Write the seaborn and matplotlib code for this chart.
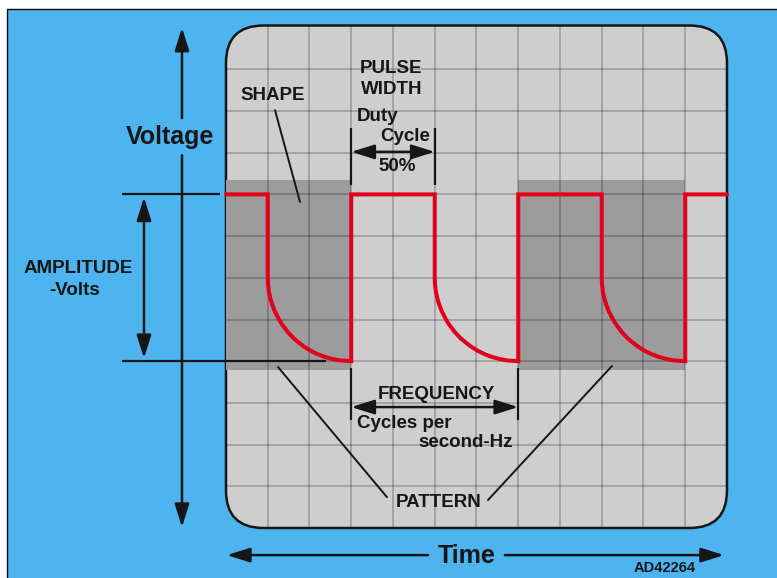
import matplotlib
matplotlib.use('Agg')
import matplotlib.pyplot as plt
from matplotlib.patches import FancyBboxPatch, Rectangle
import pandas as pd
import seaborn as sns

# waveform (grid units: screen is 12 x 12 divisions)
high_v = 8.0
low_v = 4.0
fall_times = [1, 5, 9]
rise_times = [3, 7, 11]
# decay shape after each falling edge
decay_dt = [0.0, 0.0, 0.006, 0.03, 0.064, 0.11, 0.167, 0.27, 0.33, 0.48, 0.62,
            0.74, 0.87, 1.03, 1.19, 1.38, 1.56, 1.72, 2.0]
decay_v = [8.0, 6.0, 5.85, 5.65, 5.5, 5.35, 5.2, 5.0, 4.9, 4.7, 4.55,
           4.45, 4.35, 4.25, 4.17, 4.1, 4.05, 4.02, 4.0]
# shaded "pattern" blocks (start, width) and their vertical band
shade_blocks = [(0, 3), (7, 4)]
shade_band = (3.8, 8.35)

blue = '#4DB4F0'
screen_col = '#CECECE'
shade_col = '#9C9C9C'
red = '#E2001A'
ink = '#161616'

# build trace table
t, v = [0.0], [high_v]
for f, r in zip(fall_times, rise_times):
    t += [f + d for d in decay_dt]
    v += decay_v
    t.append(r)
    v.append(high_v)
t.append(12.0)
v.append(high_v)
trace = pd.DataFrame({'t': t, 'v': v})

sns.set_theme(style='white')
plt.rcParams['font.family'] = ['Liberation Sans', 'DejaVu Sans']

fig = plt.figure(figsize=(7.77, 5.78), dpi=100, facecolor='white')
ax = fig.add_axes([0, 0, 1, 1])
ax.set_xlim(-5.413, 13.198)
ax.set_ylim(-1.199, 12.662)
ax.axis('off')

# blue panel
ax.add_patch(Rectangle((-5.245, -2), 20, 14.45, facecolor=blue,
                       edgecolor='black', lw=1, zorder=0))

# screen
screen = FancyBboxPatch((0, 0), 12, 12.05, boxstyle='round,pad=0,rounding_size=0.9',
                        facecolor=screen_col, edgecolor=ink, lw=1.8, zorder=1)
ax.add_patch(screen)

for x0, w in shade_blocks:
    r = Rectangle((x0, shade_band[0]), w, shade_band[1] - shade_band[0],
                  facecolor=shade_col, edgecolor='none', zorder=2)
    r.set_clip_path(screen)
    ax.add_patch(r)

grid = list(range(1, 12))
vl = ax.vlines(grid, 0, 12.1, colors='black', alpha=0.22, lw=1.3, zorder=3)
hl = ax.hlines(grid, 0, 12, colors='black', alpha=0.22, lw=1.3, zorder=3)
vl.set_clip_path(screen)
hl.set_clip_path(screen)

# red trace
sns.lineplot(data=trace, x='t', y='v', sort=False, estimator=None, color=red,
             lw=2.9, ax=ax, zorder=6, solid_joinstyle='miter')
ax.set_xlim(-5.413, 13.198)
ax.set_ylim(-1.199, 12.662)
ax.axis('off')

lk = dict(color=ink, lw=1.6, zorder=5, solid_capstyle='butt')
# amplitude reference lines
ax.plot([-2.49, -0.14], [high_v, high_v], **lk)
ax.plot([-2.49, 2.4], [low_v, low_v], **lk)


def arrow(x0, y0, x1, y1, style='-|>'):
    ax.annotate('', xy=(x1, y1), xytext=(x0, y0),
                arrowprops=dict(arrowstyle=style + ',head_length=0.7,head_width=0.22',
                                color=ink, lw=1.8, shrinkA=0, shrinkB=0,
                                mutation_scale=20), zorder=5)


tk = dict(color=ink, fontweight='bold', ha='center', va='center', zorder=7)

# voltage axis
arrow(-1.054, 9.83, -1.054, 12.0)
arrow(-1.054, 8.94, -1.054, 0.02)
ax.text(-1.34, 9.38, 'Voltage', fontsize=18, **tk)

# time axis
arrow(4.84, -0.65, 0.02, -0.65)
arrow(6.68, -0.65, 11.93, -0.65)
ax.text(5.77, -0.68, 'Time', fontsize=18, **tk)
ax.text(10.52, -0.95, 'AD42264', fontsize=10.5, **tk)

# amplitude
arrow(-1.964, 6.0, -1.964, 7.93)
arrow(-1.964, 6.0, -1.964, 4.07)
ax.text(-3.545, 6.23, 'AMPLITUDE', fontsize=13.5, **tk)
ax.text(-3.617, 5.70, '-Volts', fontsize=13.5, **tk)

# shape
ax.text(1.126, 10.38, 'SHAPE', fontsize=13.5, **tk)
ax.plot([1.174, 1.772], [10.02, 7.82], color=ink, lw=1.4, zorder=5)

# pulse width / duty cycle
ax.text(3.964, 11.03, 'PULSE', fontsize=13.5, **tk)
ax.text(3.964, 10.52, 'WIDTH', fontsize=13.5, **tk)
ax.text(3.62, 9.88, 'Duty', fontsize=13.5, **tk)
ax.text(4.29, 9.40, 'Cycle', fontsize=13.5, **tk)
ax.text(4.10, 8.66, '50%', fontsize=13.5, **tk)
ax.plot([3, 3], [9.59, 8.23], **lk)
ax.plot([5, 5], [9.59, 8.23], **lk)
arrow(4.0, 9.02, 3.0, 9.02)
arrow(4.0, 9.02, 5.0, 9.02)

# frequency
ax.plot([3, 3], [3.84, 2.59], **lk)
ax.plot([7, 7], [3.84, 2.59], **lk)
arrow(5.0, 2.90, 3.0, 2.90)
arrow(5.0, 2.90, 7.0, 2.90)
ax.text(5.03, 3.21, 'FREQUENCY', fontsize=13.5, **tk)
ax.text(3.14, 2.50, 'Cycles per', fontsize=13.5, color=ink, fontweight='bold',
        ha='left', va='center', zorder=7)
ax.text(6.87, 2.04, 'second-Hz', fontsize=13.5, color=ink, fontweight='bold',
        ha='right', va='center', zorder=7)

# pattern
ax.text(5.10, 0.60, 'PATTERN', fontsize=13.5, **tk)
ax.plot([1.245, 3.856], [3.86, 0.74], color=ink, lw=1.4, zorder=5)
ax.plot([9.245, 6.275], [3.885, 0.67], color=ink, lw=1.4, zorder=5)

fig.savefig('out.png', dpi=100, facecolor='white')
